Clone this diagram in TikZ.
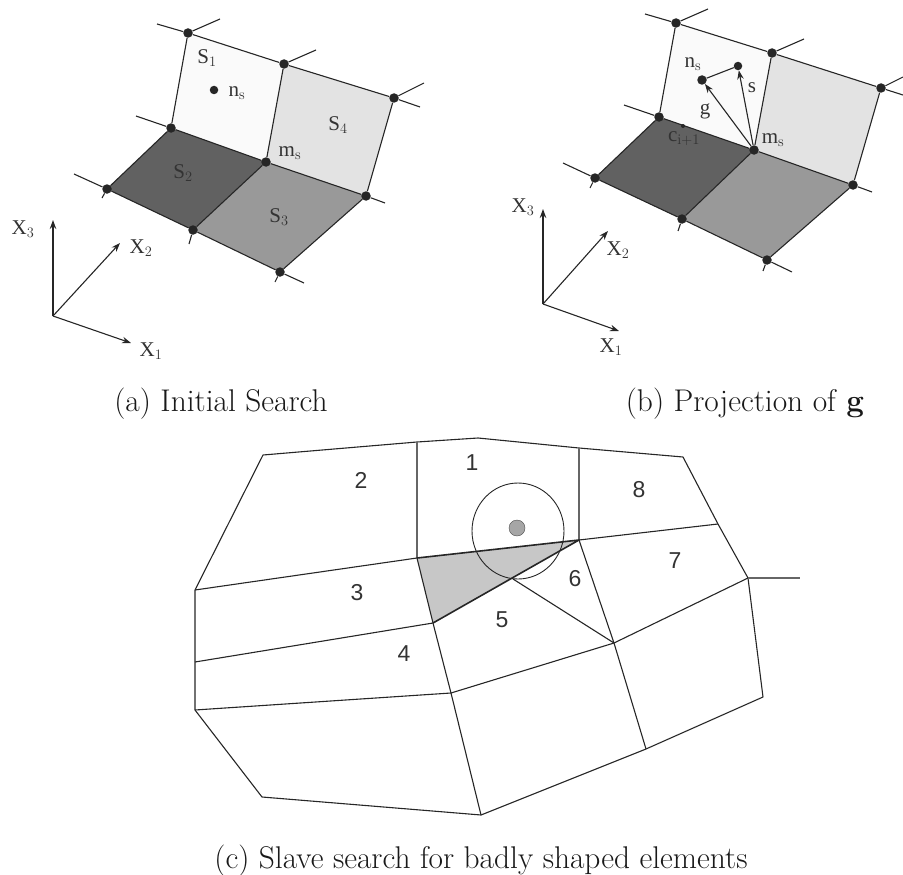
\documentclass[tikz,border=0pt]{standalone}
\usepackage{amsmath}
\usepackage{fontspec}
\usetikzlibrary{arrows.meta,backgrounds,shapes.geometric}
\newfontfamily\figfont{Liberation Serif}
\newfontfamily\numfont{Liberation Sans}

\begin{document}
\begin{tikzpicture}[x=1pt, y=-1pt, >={Stealth[length=9pt,width=6.5pt]}, line join=round, every node/.style={font=\figfont\fontsize{21}{24}\selectfont, text=black!80},
    meshpt/.style={circle, fill=black!85, inner sep=0pt, minimum size=9.5pt},
    edge/.style={black!85, line width=1.1pt},
    axis/.style={->, black!85, line width=1.1pt},
    number/.style={font=\numfont\fontsize{23}{26}\selectfont, text=black!80},
    caption/.style={font=\rmfamily\fontsize{31.4}{36}\selectfont, anchor=base, text=black!90}]
    \useasboundingbox (0,0) rectangle (903,875);

    % (a)
    \node[meshpt] (A1) at (188,33) {};
    \node[meshpt] (A2) at (284,64) {};
    \node[meshpt] (A3) at (394,98) {};
    \node[meshpt] (A4) at (171,128) {};
    \node[meshpt] (Am) at (266,162) {};
    \node[meshpt] (A6) at (366,196) {};
    \node[meshpt] (A7) at (107,189) {};
    \node[meshpt] (A8) at (193,230) {};
    \node[meshpt] (A9) at (280,272) {};
    \node[meshpt, minimum size=8.5pt] (An) at (214,90) {};

    \begin{scope}[on background layer]
        \fill[black!2] (A1.center) -- (A2.center) -- (Am.center) -- (A4.center) -- cycle;
        \fill[black!11] (A2.center) -- (A3.center) -- (A6.center) -- (Am.center) -- cycle;
        \fill[black!62] (A4.center) -- (Am.center) -- (A8.center) -- (A7.center) -- cycle;
        \fill[black!40] (Am.center) -- (A6.center) -- (A9.center) -- (A8.center) -- cycle;
    \end{scope}

    \coordinate (Aa) at (157,24);
    \coordinate (Ab) at (420,107);
    \coordinate (Ac) at (136,116);
    \coordinate (Ad) at (385,203);
    \coordinate (Ae) at (74,174);
    \coordinate (Af) at (304,283);
    \draw[edge] (Aa) -- (A1) -- (A2) -- (A3) -- (Ab);
    \draw[edge] (Ac) -- (A4) -- (Am) -- (A6) -- (Ad);
    \draw[edge] (Ae) -- (A7) -- (A8) -- (A9) -- (Af);
    \draw[edge] (A1) -- (A4);
    \draw[edge] (A2) -- (Am) -- (A8);
    \draw[edge] (A3) -- (A6) -- (A9);
    \draw[edge] (A4) -- (A7);
    \foreach \from/\x/\y in {A1/220/19, A2/316/50, A3/424/83, A7/102/198, A8/189/244, A9/275/282}
        \draw[edge] (\from) -- (\x,\y);

    \node (As1) at (207,58) {S$_1$};
    \node (As2) at (183,173) {S$_2$};
    \node (As3) at (279,217) {S$_3$};
    \node (As4) at (338,125) {S$_4$};
    \node (Ans) at (237,93) {n$_\mathrm{s}$};
    \node (Ams) at (290,153) {m$_\mathrm{s}$};

    \coordinate (Ao) at (53,316);
    \node (Ax3) at (23,229) {X$_3$};
    \node (Ax2) at (141,248) {X$_2$};
    \node (Ax1) at (151,351) {X$_1$};
    \draw[axis] (Ao) -- (53,220);
    \draw[axis] (Ao) -- (120,243);
    \draw[axis] (Ao) -- (131,343);

    % (b)
    \node[meshpt] (B1) at (676,23) {};
    \node[meshpt] (B2) at (772,53) {};
    \node[meshpt] (B3) at (881,88) {};
    \node[meshpt] (B4) at (659,117) {};
    \node[meshpt] (Bm) at (754,150) {};
    \node[meshpt] (B6) at (853,185) {};
    \node[meshpt] (B7) at (595,178) {};
    \node[meshpt] (B8) at (682,219) {};
    \node[meshpt] (B9) at (767,260) {};
    \node[meshpt] (Bn) at (702,80) {};
    \node[meshpt, minimum size=8.5pt] (Bs) at (738,66) {};
    \node[meshpt, minimum size=4pt] (Bc) at (683,126) {};

    \begin{scope}[on background layer]
        \fill[black!2] (B1.center) -- (B2.center) -- (Bm.center) -- (B4.center) -- cycle;
        \fill[black!11] (B2.center) -- (B3.center) -- (B6.center) -- (Bm.center) -- cycle;
        \fill[black!62] (B4.center) -- (Bm.center) -- (B8.center) -- (B7.center) -- cycle;
        \fill[black!40] (Bm.center) -- (B6.center) -- (B9.center) -- (B8.center) -- cycle;
    \end{scope}

    \coordinate (Ba) at (645,14);
    \coordinate (Bb) at (903,95);
    \coordinate (Bd) at (624,105);
    \coordinate (Be) at (872,192);
    \coordinate (Bf) at (563,163);
    \coordinate (Bg) at (792,272);
    \draw[edge] (Ba) -- (B1) -- (B2) -- (B3) -- (Bb);
    \draw[edge] (Bd) -- (B4) -- (Bm) -- (B6) -- (Be);
    \draw[edge] (Bf) -- (B7) -- (B8) -- (B9) -- (Bg);
    \draw[edge] (B1) -- (B4);
    \draw[edge] (B2) -- (Bm) -- (B8);
    \draw[edge] (B3) -- (B6) -- (B9);
    \draw[edge] (B4) -- (B7);
    \foreach \from/\x/\y in {B1/708/9, B2/804/39, B3/903/77, B7/590/188, B8/678/231, B9/763/271}
        \draw[edge] (\from) -- (\x,\y);
    \draw[axis] (Bm) -- (Bn);
    \draw[axis] (Bm) -- (Bs);
    \draw[edge] (Bn) -- (Bs);

    \node (Bns) at (693,64) {n$_\mathrm{s}$};
    \node (Bsl) at (752,88) {s};
    \node (Bgl) at (705,111) {g};
    \node (Bcl) at (684,139) {c$_{\mathrm{i+1}}$};
    \node (Bms) at (773,140) {m$_\mathrm{s}$};

    \coordinate (Bo) at (543,304);
    \node (Bx3) at (523,207) {X$_3$};
    \node (Bx2) at (618,250) {X$_2$};
    \node (Bx1) at (611,347) {X$_1$};
    \draw[axis] (Bo) -- (543,209);
    \draw[axis] (Bo) -- (608,231);
    \draw[axis] (Bo) -- (619,331);

    % (c)
    \coordinate (C1) at (263,455);
    \coordinate (C2) at (417,442);
    \coordinate (C3) at (478,438);
    \coordinate (C4) at (579,448);
    \coordinate (C5) at (683,457);
    \coordinate (C6) at (718,524);
    \coordinate (C7) at (748,578);
    \coordinate (C8) at (763,697);
    \coordinate (C9) at (646,749);
    \coordinate (C10) at (481,815);
    \coordinate (C11) at (262,797);
    \coordinate (C12) at (195,710);
    \coordinate (C13) at (195,662);
    \coordinate (C14) at (195,590);
    \coordinate (C15) at (417,558);
    \coordinate (C16) at (579,540);
    \coordinate (C17) at (433,623);
    \coordinate (C18) at (451,693);
    \coordinate (C19) at (614,643);
    \coordinate (C20) at (513,579);
    \coordinate (C21) at (800,578);

    \fill[black!22] (C15) -- (C16) -- (C17) -- cycle;
    \draw[edge] (C14) -- (C1) -- (C2) -- (C3) -- (C4) -- (C5) -- (C6) -- (C7) -- (C8) -- (C9) -- (C10) -- (C11) -- (C12) -- (C13) -- (C14);
    \draw[edge, black!60] (C2) -- (C15);
    \draw[edge, black!60] (C4) -- (C16);
    \draw[edge] (C14) -- (C15);
    \draw[edge] (C16) -- (C6);
    \draw[edge] (C13) -- (C17);
    \draw[edge] (C15) -- (C17) -- (C18) -- (C10);
    \draw[edge] (C12) -- (C18) -- (C19) -- (C7);
    \draw[edge, black!60] (C7) -- (C21);
    \draw[edge] (C16) -- (C19) -- (C9);
    \draw[edge] (C20) -- (C19);
    \draw[black!85, line width=1.6pt] (C15) -- (C16) -- (C17);
    \node[draw=black!85, line width=0.9pt, ellipse, inner sep=0pt, minimum width=92pt, minimum height=96pt] (Cr) at (518,531) {};
    \node[circle, draw=black!70, fill=black!35, inner sep=0pt, minimum size=16pt] (Cd) at (517,528) {};

    \node[number] (N1) at (472,463) {1};
    \node[number] (N2) at (361,480) {2};
    \node[number] (N3) at (357,593) {3};
    \node[number] (N4) at (404,654) {4};
    \node[number] (N5) at (502,620) {5};
    \node[number] (N6) at (575,579) {6};
    \node[number] (N7) at (675,561) {7};
    \node[number] (N8) at (639,490) {8};

    \node[caption] (Ca) at (221,411) {(a) Initial Search};
    \node[caption] (Cb) at (745,411) {(b) Projection of \textbf{g}};
    \node[caption] (Cc) at (481,868) {(c) Slave search for badly shaped elements};
\end{tikzpicture}
\end{document}
